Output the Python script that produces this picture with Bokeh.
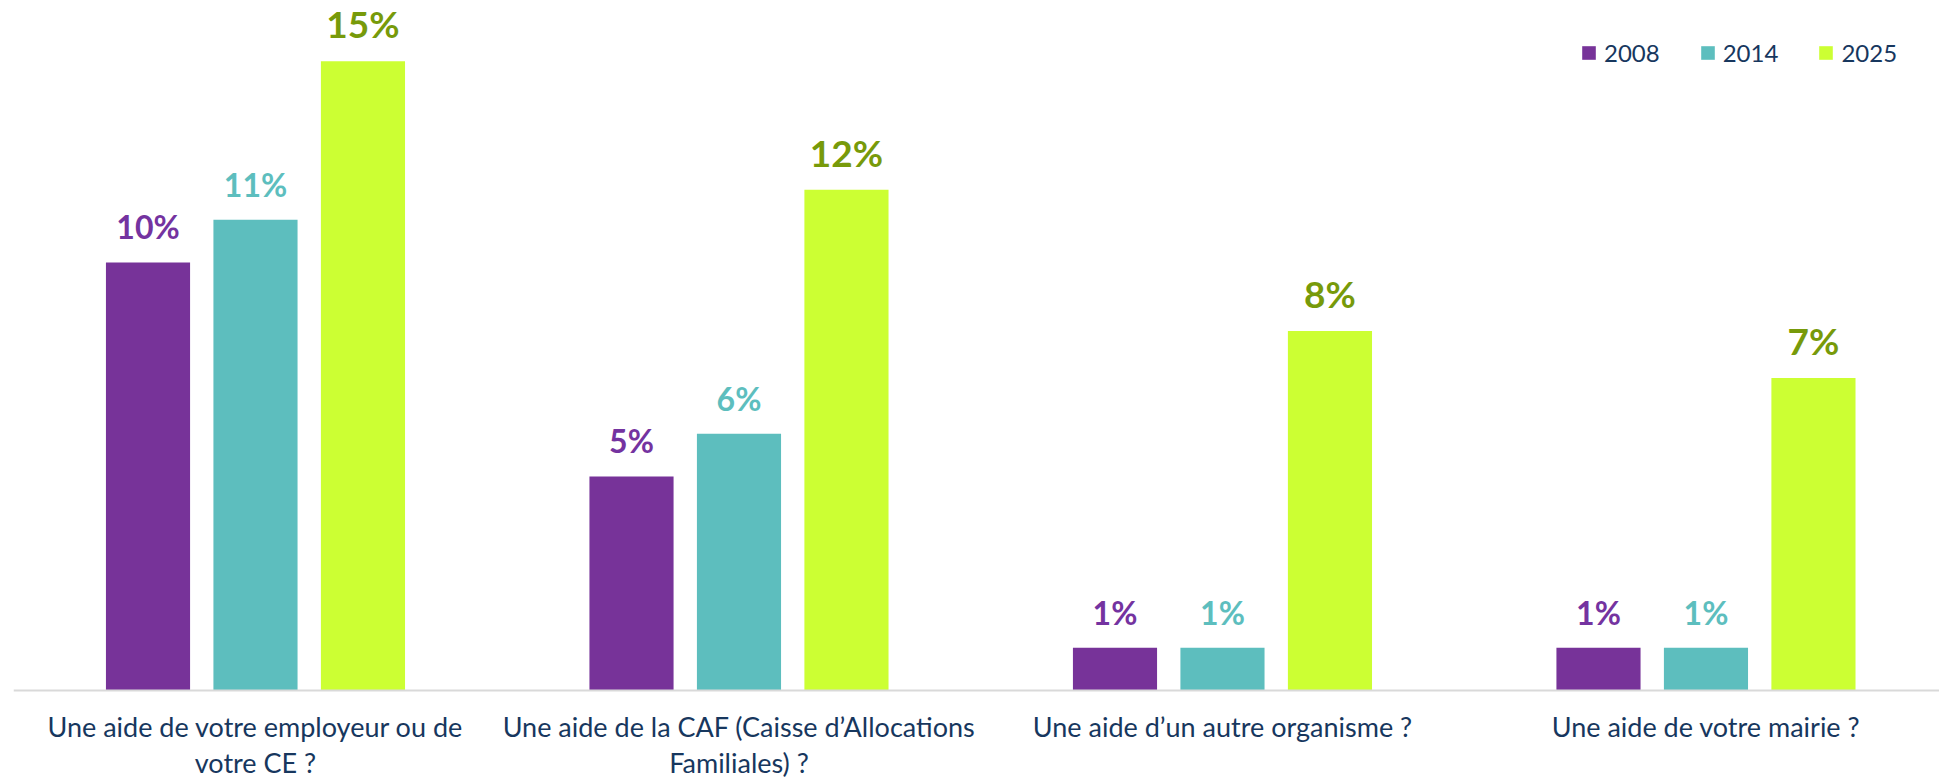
from bokeh.plotting import figure
from bokeh.models import ColumnDataSource, Legend, LegendItem, Span
from bokeh.core.properties import value
from bokeh.embed import file_html
from bokeh.resources import INLINE

categories = [
    "Une aide de votre employeur ou de\nvotre CE ?",
    "Une aide de la CAF (Caisse d’Allocations\nFamiliales) ?",
    "Une aide d’un autre organisme ?",
    "Une aide de votre mairie ?",
]
years = ["2008", "2014", "2025"]
v2008 = [10, 5, 1, 1]
v2014 = [11, 6, 1, 1]
v2025 = [14.7, 11.7, 8.4, 7.3]

bar_colors = ["#773399", "#5DBEBE", "#CCFF33"]
label_colors = ["#7433A0", "#5DBEBE", "#779A0A"]
label_sizes = ["32px", "32px", "37px"]
label_offsets = [-16, -16, -15]
offsets = [-0.2223, 0.0, 0.2223]

FONT = "Lato"

p = figure(width=1939, height=778, output_backend="svg", toolbar_location=None,
           x_range=(-0.5005, 3.483), y_range=(-2.056, 16.12),
           min_border_left=13, min_border_right=0, min_border_top=0, min_border_bottom=0)
p.outline_line_color = None
p.xgrid.visible = False
p.ygrid.visible = False
p.xaxis.visible = False
p.yaxis.visible = False

p.add_layout(Span(location=0, dimension="width", line_color="#D9D9D9", line_width=2))

items = []
for k, (yr, vals) in enumerate(zip(years, [v2008, v2014, v2025])):
    xs = [i + offsets[k] for i in range(len(categories))]
    src = ColumnDataSource(dict(x=xs, top=vals, lab=[f"{round(v)}%" for v in vals]))
    r = p.vbar(x="x", top="top", width=0.174, bottom=0, source=src,
               fill_color=bar_colors[k], line_color=None)
    p.text(x="x", y="top", text="lab", source=src, y_offset=label_offsets[k],
           text_align="center", text_baseline="bottom",
           text_font=value(FONT), text_font_style="bold",
           text_font_size=label_sizes[k], text_color=label_colors[k])
    items.append(LegendItem(label=yr, renderers=[r]))

cat_src = ColumnDataSource(dict(x=list(range(len(categories))), y=[0] * len(categories),
                                t=categories))
p.text(x="x", y="y", text="t", source=cat_src, y_offset=20,
       text_align="center", text_baseline="top", text_line_height=1.08,
       text_font=value(FONT), text_font_size="27px", text_color="#17375E")

legend = Legend(items=items, orientation="horizontal", location=(1567, 711),
                glyph_width=17, glyph_height=17, label_standoff=7, spacing=39,
                padding=0, margin=0, border_line_color=None,
                background_fill_alpha=0,
                label_text_font=FONT, label_text_font_size="24px",
                label_text_color="#17375E")
p.add_layout(legend)

open("out.html", "w").write(file_html(p, INLINE))
